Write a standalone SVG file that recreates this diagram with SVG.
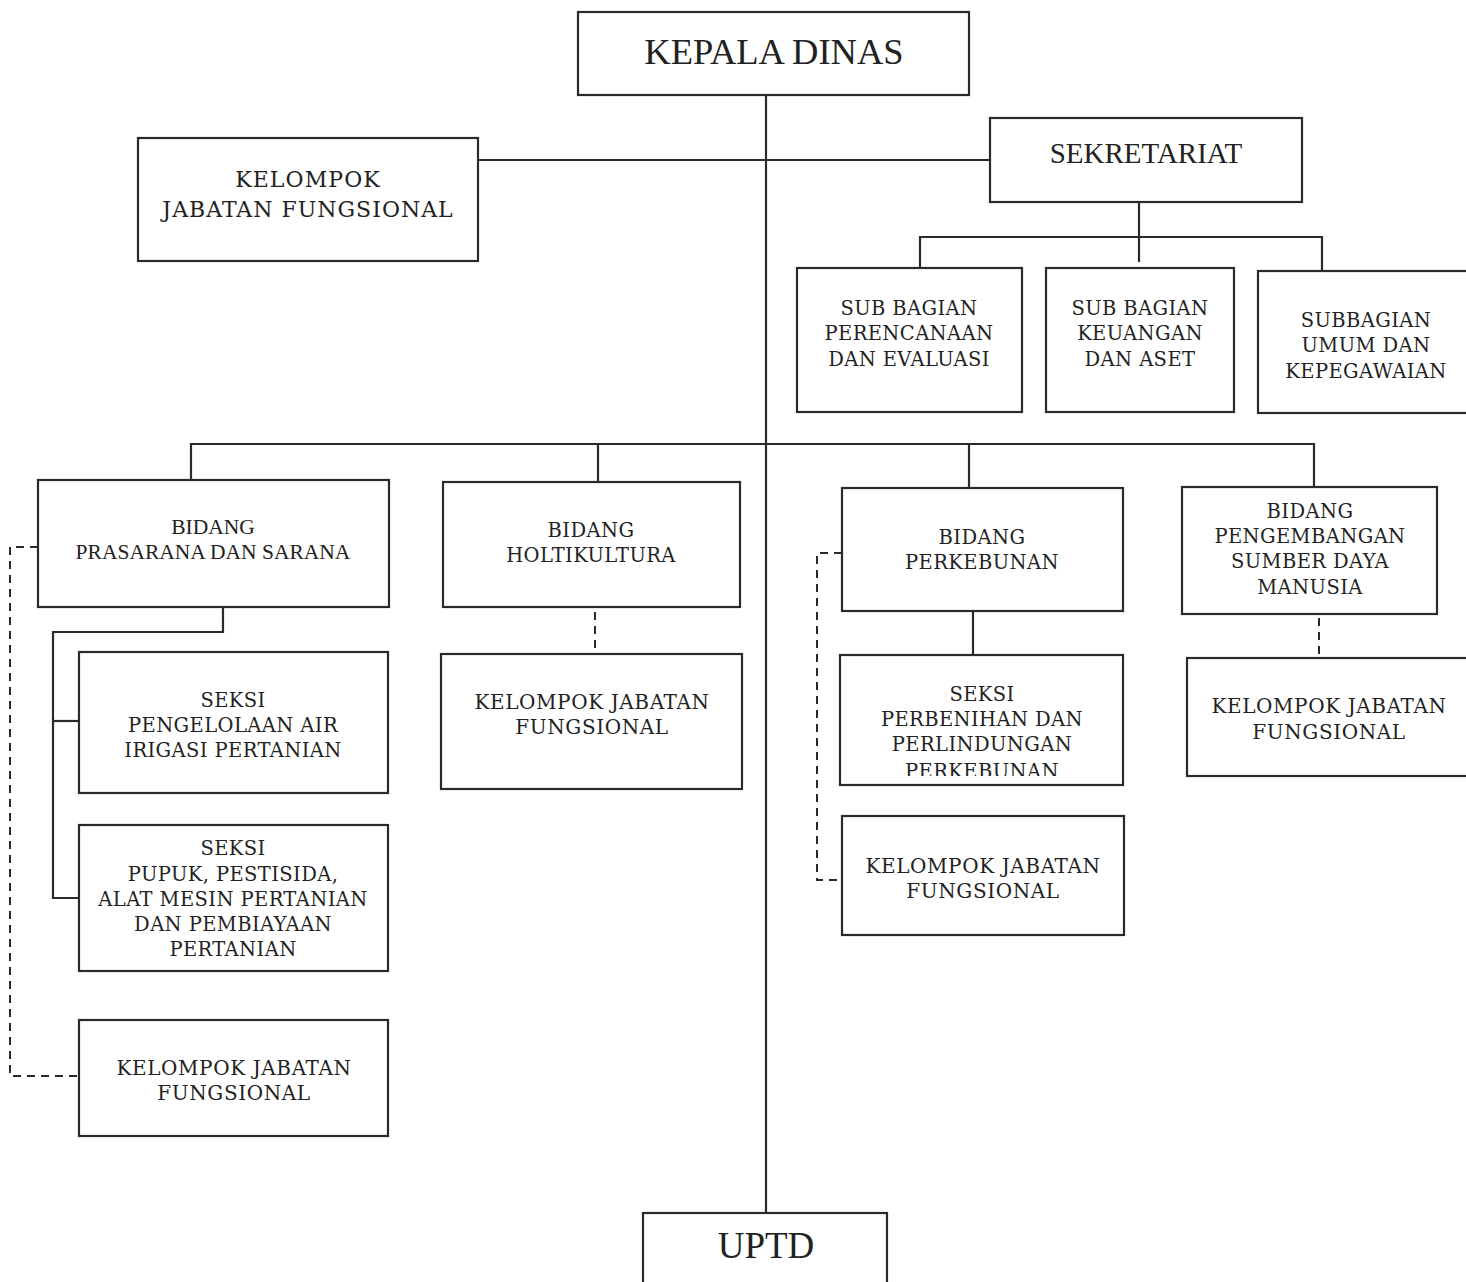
<svg xmlns="http://www.w3.org/2000/svg" width="1466" height="1282" viewBox="0 0 1466 1282">
<style>
.box{fill:#fff;stroke:#2a2a2a;stroke-width:2.2}
.ln{fill:none;stroke:#2a2a2a;stroke-width:2.2}
.dash{fill:none;stroke:#2a2a2a;stroke-width:2;stroke-dasharray:8 6}
.b{font-family:"DejaVu Serif","Liberation Serif",serif;font-size:19.5px;letter-spacing:0.4px;fill:#222;text-anchor:middle}
.k{font-size:20px;letter-spacing:0.6px}
.t{font-family:"Liberation Serif","Times New Roman",serif;fill:#222;text-anchor:middle}
</style>
<defs>
<clipPath id="clipPerb"><rect x="840" y="655" width="283" height="121"/></clipPath>
</defs>
<rect width="1466" height="1282" fill="#fff"/>
<g id="connectors">
<line class="ln" x1="766" y1="96" x2="766" y2="1214"/>
<line class="ln" x1="478" y1="160" x2="990" y2="160"/>
<line class="ln" x1="1139" y1="202" x2="1139" y2="262"/>
<polyline class="ln" points="920,267 920,237 1322,237 1322,271"/>
<polyline class="ln" points="191,480 191,444 1314,444 1314,488"/>
<line class="ln" x1="598" y1="444" x2="598" y2="482"/>
<line class="ln" x1="969" y1="444" x2="969" y2="488"/>
<polyline class="ln" points="223,607 223,632 53,632 53,898 79,898"/>
<line class="ln" x1="53" y1="721" x2="79" y2="721"/>
<line class="ln" x1="973" y1="611" x2="973" y2="655"/>
<polyline class="dash" points="38,547 10,547 10,1076 79,1076"/>
<line class="dash" x1="595" y1="612" x2="595" y2="652"/>
<polyline class="dash" points="842,553 817,553 817,880 842,880"/>
<line class="dash" x1="1319" y1="618" x2="1319" y2="657"/>
</g>
<g id="kepala">
<rect class="box" x="578" y="12" width="391" height="83"/>
<text class="t" x="774" y="64" font-size="36.5">KEPALA DINAS</text>
</g>
<g id="kjf-top">
<rect class="box" x="138" y="138" width="340" height="123"/>
<text class="b" x="308" y="187" style="font-size:22px;letter-spacing:1.1px">KELOMPOK</text>
<text class="b" x="308" y="217" style="font-size:22px;letter-spacing:1px">JABATAN FUNGSIONAL</text>
</g>
<g id="sekretariat">
<rect class="box" x="990" y="118" width="312" height="84"/>
<text class="t" x="1146" y="163" font-size="29">SEKRETARIAT</text>
</g>
<g id="sub-perencanaan">
<rect class="box" x="797" y="268" width="225" height="144"/>
<text class="b" x="909" y="315">SUB BAGIAN</text>
<text class="b" x="909" y="340">PERENCANAAN</text>
<text class="b" x="909" y="366">DAN EVALUASI</text>
</g>
<g id="sub-keuangan">
<rect class="box" x="1046" y="268" width="188" height="144"/>
<text class="b" x="1140" y="315">SUB BAGIAN</text>
<text class="b" x="1140" y="340">KEUANGAN</text>
<text class="b" x="1140" y="366">DAN ASET</text>
</g>
<g id="sub-umum">
<rect class="box" x="1258" y="271" width="220" height="142"/>
<text class="b" x="1366" y="327">SUBBAGIAN</text>
<text class="b" x="1366" y="352">UMUM DAN</text>
<text class="b" x="1366" y="378">KEPEGAWAIAN</text>
</g>
<g id="bidang-prasarana">
<rect class="box" x="38" y="480" width="351" height="127"/>
<text class="t" x="213" y="534" font-size="21.5">BIDANG</text>
<text class="t" x="213" y="559" font-size="21.5">PRASARANA DAN SARANA</text>
</g>
<g id="bidang-holtikultura">
<rect class="box" x="443" y="482" width="297" height="125"/>
<text class="b" x="591" y="537">BIDANG</text>
<text class="b" x="591" y="562">HOLTIKULTURA</text>
</g>
<g id="bidang-perkebunan">
<rect class="box" x="842" y="488" width="281" height="123"/>
<text class="b" x="982" y="544">BIDANG</text>
<text class="b" x="982" y="569">PERKEBUNAN</text>
</g>
<g id="bidang-pengembangan">
<rect class="box" x="1182" y="487" width="255" height="127"/>
<text class="b" x="1310" y="518">BIDANG</text>
<text class="b" x="1310" y="543">PENGEMBANGAN</text>
<text class="b" x="1310" y="568">SUMBER DAYA</text>
<text class="b" x="1310" y="594">MANUSIA</text>
</g>
<g id="seksi-air">
<rect class="box" x="79" y="652" width="309" height="141"/>
<text class="b" x="233" y="707">SEKSI</text>
<text class="b" x="233" y="732">PENGELOLAAN AIR</text>
<text class="b" x="233" y="757">IRIGASI PERTANIAN</text>
</g>
<g id="seksi-pupuk">
<rect class="box" x="79" y="825" width="309" height="146"/>
<text class="b" x="233" y="855">SEKSI</text>
<text class="b" x="233" y="881">PUPUK, PESTISIDA,</text>
<text class="b" x="233" y="906">ALAT MESIN PERTANIAN</text>
<text class="b" x="233" y="931">DAN PEMBIAYAAN</text>
<text class="b" x="233" y="956">PERTANIAN</text>
</g>
<g id="kjf-prasarana">
<rect class="box" x="79" y="1020" width="309" height="116"/>
<text class="b k" x="234" y="1075">KELOMPOK JABATAN</text>
<text class="b k" x="234" y="1100">FUNGSIONAL</text>
</g>
<g id="kjf-holtikultura">
<rect class="box" x="441" y="654" width="301" height="135"/>
<text class="b k" x="592" y="709">KELOMPOK JABATAN</text>
<text class="b k" x="592" y="734">FUNGSIONAL</text>
</g>
<g id="seksi-perbenihan">
<rect class="box" x="840" y="655" width="283" height="130"/>
<text class="b" x="982" y="701">SEKSI</text>
<text class="b" x="982" y="726">PERBENIHAN DAN</text>
<text class="b" x="982" y="751">PERLINDUNGAN</text>
<text class="b" x="982" y="778" clip-path="url(#clipPerb)">PERKEBUNAN</text>
</g>
<g id="kjf-perkebunan">
<rect class="box" x="842" y="816" width="282" height="119"/>
<text class="b k" x="983" y="873">KELOMPOK JABATAN</text>
<text class="b k" x="983" y="898">FUNGSIONAL</text>
</g>
<g id="kjf-pengembangan">
<rect class="box" x="1187" y="658" width="290" height="118"/>
<text class="b k" x="1329" y="713">KELOMPOK JABATAN</text>
<text class="b k" x="1329" y="739">FUNGSIONAL</text>
</g>
<g id="uptd">
<rect class="box" x="643" y="1213" width="244" height="80"/>
<text class="t" x="766" y="1258" font-size="37">UPTD</text>
</g>
</svg>
